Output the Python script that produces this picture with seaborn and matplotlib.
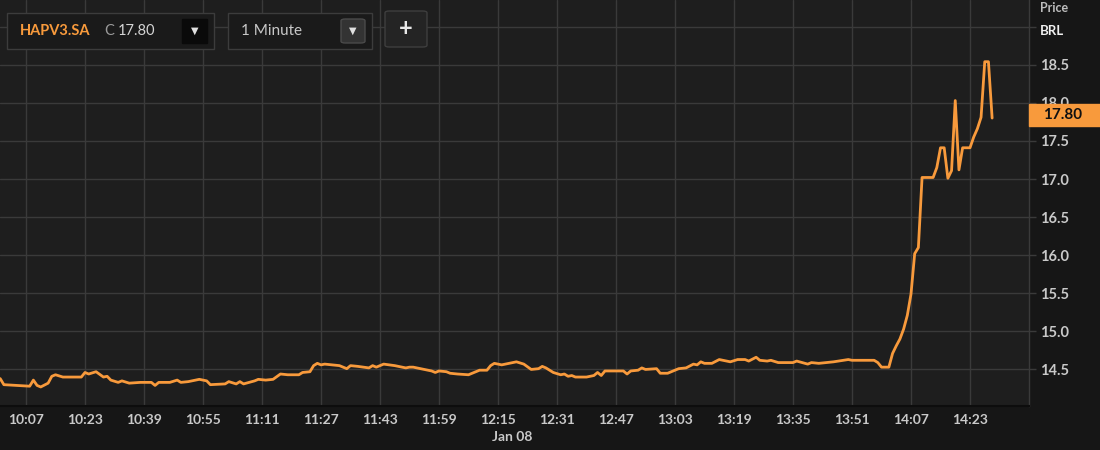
import pandas as pd
import seaborn as sns
import matplotlib.pyplot as plt
from matplotlib.patches import Rectangle, FancyBboxPatch

# Data (1 minute bars, vertices of the price line)
trade_date = "2021-01-08"
times = ["10:00", "10:01", "10:08", "10:09", "10:10", "10:11", "10:13", "10:14", "10:15", "10:17",
         "10:22", "10:23", "10:24", "10:26", "10:28", "10:29", "10:30", "10:32", "10:33", "10:35",
         "10:38", "10:41", "10:42", "10:43", "10:46", "10:48", "10:49", "10:51", "10:52", "10:54",
         "10:56", "10:57", "11:01", "11:02", "11:04", "11:05", "11:06", "11:09", "11:10", "11:12",
         "11:14", "11:16", "11:18", "11:21", "11:22", "11:24", "11:25", "11:26", "11:27", "11:28",
         "11:32", "11:33", "11:34", "11:35", "11:37", "11:40", "11:41", "11:42", "11:44", "11:47",
         "11:50", "11:51", "11:52", "11:55", "11:57", "11:58", "11:59", "12:01", "12:02", "12:04",
         "12:07", "12:08", "12:10", "12:12", "12:13", "12:14", "12:16", "12:20", "12:22", "12:24",
         "12:26", "12:27", "12:28", "12:30", "12:32", "12:33", "12:34", "12:35", "12:36", "12:39",
         "12:41", "12:42", "12:43", "12:44", "12:49", "12:50", "12:51", "12:53", "12:54", "12:55",
         "12:58", "12:59", "13:01", "13:02", "13:04", "13:06", "13:08", "13:09", "13:10", "13:11",
         "13:13", "13:15", "13:17", "13:18", "13:20", "13:22", "13:23", "13:25", "13:26", "13:28",
         "13:29", "13:31", "13:35", "13:36", "13:39", "13:40", "13:42", "13:46", "13:50", "13:51",
         "13:57", "13:58", "13:59", "14:01", "14:02", "14:03", "14:04", "14:05", "14:06", "14:07",
         "14:08", "14:09", "14:10", "14:13", "14:14", "14:15", "14:16", "14:17", "14:18", "14:19",
         "14:20", "14:21", "14:23", "14:24", "14:25", "14:26", "14:27", "14:28", "14:29"]
prices = [14.38, 14.30, 14.28, 14.36, 14.29, 14.27, 14.32, 14.41, 14.43, 14.40,
          14.40, 14.46, 14.44, 14.47, 14.40, 14.41, 14.36, 14.33, 14.35, 14.32,
          14.33, 14.33, 14.29, 14.33, 14.33, 14.36, 14.33, 14.34, 14.35, 14.37,
          14.35, 14.30, 14.31, 14.34, 14.31, 14.34, 14.31, 14.35, 14.37, 14.36,
          14.37, 14.44, 14.43, 14.43, 14.46, 14.47, 14.55, 14.58, 14.56, 14.57,
          14.55, 14.53, 14.51, 14.55, 14.54, 14.52, 14.55, 14.53, 14.57, 14.55,
          14.52, 14.53, 14.53, 14.50, 14.48, 14.46, 14.48, 14.47, 14.45, 14.44,
          14.43, 14.45, 14.49, 14.49, 14.55, 14.58, 14.56, 14.60, 14.57, 14.50,
          14.51, 14.54, 14.52, 14.46, 14.43, 14.44, 14.41, 14.42, 14.40, 14.40,
          14.42, 14.46, 14.42, 14.48, 14.48, 14.44, 14.48, 14.49, 14.52, 14.50,
          14.51, 14.45, 14.45, 14.47, 14.51, 14.52, 14.57, 14.56, 14.60, 14.58,
          14.58, 14.63, 14.61, 14.60, 14.63, 14.63, 14.61, 14.66, 14.62, 14.61,
          14.62, 14.59, 14.59, 14.61, 14.57, 14.59, 14.58, 14.60, 14.63, 14.62,
          14.62, 14.59, 14.53, 14.53, 14.71, 14.81, 14.90, 15.03, 15.21, 15.49,
          16.02, 16.10, 17.02, 17.02, 17.15, 17.41, 17.41, 17.01, 17.11, 18.03,
          17.12, 17.41, 17.41, 17.55, 17.66, 17.81, 18.54, 18.54, 17.80]

x_tick_labels = ["10:07", "10:23", "10:39", "10:55", "11:11", "11:27", "11:43", "11:59", "12:15",
                 "12:31", "12:47", "13:03", "13:19", "13:35", "13:51", "14:07", "14:23"]
y_ticks = [14.5, 15.0, 15.5, 16.0, 16.5, 17.0, 17.5, 18.0, 18.5, 19.0]
y_tick_labels = ["14.5", "15.0", "15.5", "16.0", "16.5", "17.0", "17.5", "18.0", "18.5", ""]

ric = "HAPV3.SA"
last_price = "17.80"
interval = "1 Minute"

df = pd.DataFrame({"time": pd.to_datetime([trade_date + " " + t for t in times]),
                   "price": prices})

# Colours
bg_plot = "#1e1e1e"
bg_outer = "#161616"
grid_col = "#3a3a3a"
orange = "#f89a3c"
text_col = "#c9c9c9"

sns.set_style("dark", {"axes.facecolor": bg_plot, "figure.facecolor": bg_outer})
plt.rcParams["font.family"] = ["Lato", "DejaVu Sans"]

W, H = 1100, 450
fig = plt.figure(figsize=(11, 4.5), dpi=100, facecolor=bg_outer)
ax = fig.add_axes([0, 44 / H, 1029 / W, 406 / H])

sns.lineplot(data=df, x="time", y="price", ax=ax, color=orange, linewidth=2.0, zorder=3)

ax.set_xlim(pd.Timestamp(trade_date + " 09:59:57"), pd.Timestamp(trade_date + " 14:39:00"))
ax.set_ylim(14.02, 19.35)

ax.set_xticks(pd.to_datetime([trade_date + " " + t for t in x_tick_labels]))
ax.set_xticklabels(x_tick_labels)
ax.yaxis.tick_right()
ax.set_yticks(y_ticks)
ax.set_yticklabels(y_tick_labels)
ax.set_xlabel("")
ax.set_ylabel("")

ax.grid(True, color=grid_col, linewidth=1.0)
ax.tick_params(axis="x", length=0, pad=6, labelsize=10, labelcolor=text_col)
ax.tick_params(axis="y", right=True, length=5, width=1, color=grid_col, pad=3,
               labelsize=10.5, labelcolor=text_col)
for lab in ax.get_xticklabels() + ax.get_yticklabels():
    lab.set_fontweight("bold")

for side in ["left", "top"]:
    ax.spines[side].set_visible(False)
ax.spines["right"].set_color(grid_col)
ax.spines["right"].set_linewidth(1)
ax.spines["bottom"].set_color("#0d0d0d")
ax.spines["bottom"].set_linewidth(1.5)


def fx(x):
    return x / W


def fy(y):
    return 1 - y / H


def box(x0, y0, x1, y1, face, edge, rounded=False):
    if rounded:
        p = FancyBboxPatch((fx(x0), fy(y1)), fx(x1) - fx(x0), fy(y0) - fy(y1),
                           boxstyle="round,pad=0,rounding_size=0.004",
                           transform=fig.transFigure, facecolor=face, edgecolor=edge,
                           linewidth=1, zorder=5)
    else:
        p = Rectangle((fx(x0), fy(y1)), fx(x1) - fx(x0), fy(y0) - fy(y1),
                      transform=fig.transFigure, facecolor=face, edgecolor=edge,
                      linewidth=1, zorder=5)
    fig.add_artist(p)


# Instrument selector
box(7, 13, 214, 49, "#1a1a1a", "#3c3c3c")
fig.text(fx(20), fy(31), ric, color=orange, fontsize=10.5, fontweight="bold",
         va="center", ha="left", zorder=6)
fig.text(fx(104), fy(31), "C", color="#9a9a9a", fontsize=10.5, va="center", ha="left", zorder=6)
fig.text(fx(118), fy(31), last_price, color="#d4d4d4", fontsize=10.5, va="center",
         ha="left", zorder=6)
box(182, 19, 207, 43, "#0a0a0a", "#0a0a0a")
fig.text(fx(194.5), fy(31), "▼", color="#e0e0e0", fontsize=7, va="center", ha="center", zorder=6)

# Interval selector
box(228, 13, 372, 49, "#1a1a1a", "#3c3c3c")
fig.text(fx(241), fy(31), interval, color="#c8c8c8", fontsize=11, va="center",
         ha="left", zorder=6)
box(341, 19, 365, 43, "#333333", "#4a4a4a", rounded=True)
fig.text(fx(353), fy(31), "▼", color="#e0e0e0", fontsize=7, va="center", ha="center", zorder=6)

# Add button
box(385, 11, 427, 47, "#242424", "#3e3e3e", rounded=True)
fig.text(fx(406), fy(29), "+", color="#e8e8e8", fontsize=17, fontweight="bold",
         va="center", ha="center", zorder=6)

# Price axis header
fig.text(fx(1040), fy(8), "Price", color="#bdbdbd", fontsize=9, fontweight="bold",
         va="center", ha="left")
fig.text(fx(1040), fy(31), "BRL", color="#f0f0f0", fontsize=9.5, fontweight="bold",
         va="center", ha="left")

# Last price marker (covers the lower half of the 18.0 label, as in the original)
box(1029, 104, 1100, 126, orange, orange)
fig.text(fx(1063), fy(115), last_price, color="#111111", fontsize=11, fontweight="bold",
         va="center", ha="center", zorder=6)

# Date under the axis
fig.text(fx(512), fy(437), "Jan 08", color=text_col, fontsize=10, fontweight="bold",
         va="center", ha="center")

fig.savefig("out.png", dpi=100, facecolor=bg_outer)
